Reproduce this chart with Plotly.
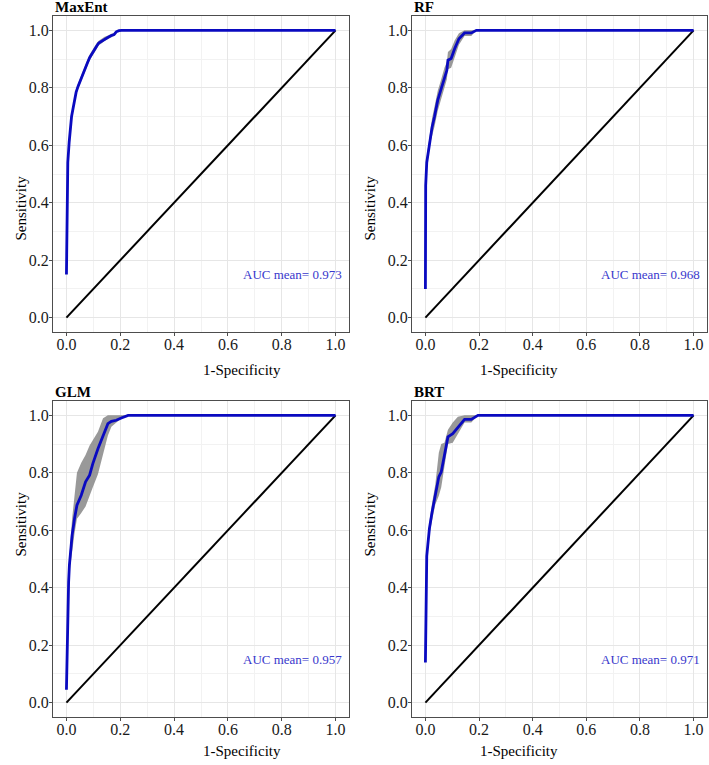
import plotly.graph_objects as go

# ---------------- data ----------------
models = ["MaxEnt", "RF", "GLM", "BRT"]
auc_means = ["0.973", "0.968", "0.957", "0.971"]

maxent_fpr = [0, 0.002, 0.005, 0.010, 0.014, 0.019, 0.024, 0.030, 0.036, 0.043, 0.049, 0.058, 0.067,
              0.077, 0.086, 0.095, 0.104, 0.112, 0.120, 0.130, 0.142, 0.155, 0.167, 0.177, 0.185,
              0.195, 0.205, 1.0]
maxent_tpr = [0.15, 0.40, 0.54, 0.61, 0.655, 0.70, 0.725, 0.755, 0.785, 0.805, 0.82, 0.84, 0.86,
              0.885, 0.905, 0.92, 0.935, 0.945, 0.956, 0.962, 0.971, 0.976, 0.982, 0.985, 0.995,
              0.999, 1.0, 1.0]
maxent_up = [0.15, 0.41, 0.55, 0.62, 0.665, 0.71, 0.735, 0.765, 0.795, 0.815, 0.83, 0.85, 0.87,
             0.895, 0.915, 0.93, 0.945, 0.955, 0.964, 0.97, 0.978, 0.982, 0.988, 0.99, 0.998,
             1.0, 1.0, 1.0]
maxent_lo = [0.15, 0.39, 0.53, 0.60, 0.645, 0.69, 0.715, 0.745, 0.775, 0.795, 0.81, 0.83, 0.85,
             0.875, 0.895, 0.91, 0.925, 0.935, 0.948, 0.954, 0.964, 0.97, 0.976, 0.98, 0.992,
             0.998, 1.0, 1.0]

rf_fpr = [0, 0.001, 0.005, 0.010, 0.015, 0.020, 0.025, 0.034, 0.046, 0.059, 0.071, 0.080, 0.084,
          0.096, 0.109, 0.125, 0.146, 0.171, 0.190, 1.0]
rf_tpr = [0.10, 0.46, 0.54, 0.575, 0.606, 0.64, 0.664, 0.70, 0.757, 0.797, 0.838, 0.861, 0.896,
          0.902, 0.936, 0.971, 0.991, 0.991, 1.0, 1.0]
rf_up = [0.10, 0.47, 0.56, 0.595, 0.63, 0.665, 0.695, 0.735, 0.79, 0.83, 0.87, 0.89, 0.925,
         0.935, 0.965, 0.99, 1.0, 1.0, 1.0, 1.0]
rf_lo = [0.09, 0.45, 0.525, 0.555, 0.585, 0.615, 0.635, 0.665, 0.72, 0.76, 0.80, 0.83, 0.865,
         0.87, 0.91, 0.95, 0.98, 0.98, 1.0, 1.0]

glm_fpr = [0, 0.003, 0.005, 0.008, 0.011, 0.016, 0.021, 0.030, 0.039, 0.055, 0.071, 0.086, 0.098,
           0.117, 0.136, 0.154, 0.167, 0.185, 0.204, 0.229, 1.0]
glm_tpr = [0.045, 0.20, 0.34, 0.42, 0.479, 0.54, 0.583, 0.641, 0.6875, 0.722, 0.769, 0.792, 0.832,
           0.884, 0.931, 0.971, 0.979, 0.983, 0.991, 1.0, 1.0]
glm_up = [0.05, 0.21, 0.36, 0.45, 0.51, 0.58, 0.64, 0.72, 0.80, 0.835, 0.862, 0.895, 0.914,
          0.943, 0.99, 1.0, 1.0, 1.0, 1.0, 1.0, 1.0]
glm_lo = [0.04, 0.19, 0.32, 0.39, 0.45, 0.50, 0.53, 0.59, 0.64, 0.66, 0.683, 0.72, 0.75,
          0.795, 0.862, 0.93, 0.96, 0.975, 0.99, 1.0, 1.0]

brt_fpr = [0, 0.002, 0.005, 0.009, 0.015, 0.025, 0.037, 0.050, 0.059, 0.071, 0.084, 0.102, 0.121,
           0.146, 0.171, 0.196, 1.0]
brt_tpr = [0.14, 0.456, 0.51, 0.549, 0.606, 0.664, 0.722, 0.786, 0.803, 0.861, 0.925, 0.936, 0.959,
           0.986, 0.986, 1.0, 1.0]
brt_up = [0.14, 0.46, 0.53, 0.57, 0.63, 0.695, 0.76, 0.87, 0.90, 0.905, 0.95, 0.975, 0.995,
          1.0, 1.0, 1.0, 1.0]
brt_lo = [0.13, 0.45, 0.49, 0.53, 0.585, 0.635, 0.69, 0.72, 0.75, 0.82, 0.90, 0.905, 0.935,
          0.975, 0.975, 1.0, 1.0]

diag = [0, 1]
tick_vals = [0.0, 0.2, 0.4, 0.6, 0.8, 1.0]

curves = [
    (maxent_fpr, maxent_tpr, maxent_lo, maxent_up),
    (rf_fpr, rf_tpr, rf_lo, rf_up),
    (glm_fpr, glm_tpr, glm_lo, glm_up),
    (brt_fpr, brt_tpr, brt_lo, brt_up),
]

# ---------------- layout geometry ----------------
W, H = 709, 765
x_doms = [(53 / W, 349 / W), (412 / W, 707 / W)]
y_doms = [(1 - 332 / H, 1 - 16 / H), (1 - 717 / H, 1 - 401 / H)]

SERIF = "Liberation Serif"
LINE_BLUE = "#0a0ac0"
TEXT_BLUE = "#3838cc"

fig = go.Figure()
annotations = []

for i, (name, auc, (fx, ty, lo, up)) in enumerate(zip(models, auc_means, curves)):
    col = i % 2
    row = i // 2
    idx = "" if i == 0 else str(i + 1)
    xa, ya = "x" + idx, "y" + idx

    # confidence band
    fig.add_trace(go.Scatter(
        x=list(fx) + list(fx)[::-1], y=list(up) + list(lo)[::-1],
        fill="toself", fillcolor="rgba(128,128,128,0.8)", line=dict(width=0),
        mode="lines", hoverinfo="skip", showlegend=False, xaxis=xa, yaxis=ya))
    # diagonal
    fig.add_trace(go.Scatter(x=diag, y=diag, mode="lines",
                             line=dict(color="black", width=2), showlegend=False,
                             xaxis=xa, yaxis=ya))
    # mean ROC
    fig.add_trace(go.Scatter(x=fx, y=ty, mode="lines",
                             line=dict(color=LINE_BLUE, width=2.8), showlegend=False,
                             xaxis=xa, yaxis=ya))

    axis_common = dict(
        range=[-0.05, 1.05], tickvals=tick_vals, tickformat=".1f",
        showgrid=True, gridcolor="#e6e6e6", gridwidth=1,
        minor=dict(showgrid=True, gridcolor="#f2f2f2", gridwidth=1, dtick=0.1, tick0=0),
        zeroline=False, showline=True, mirror=True, linecolor="#4d4d4d", linewidth=1.3,
        ticks="outside", ticklen=3, tickcolor="#4d4d4d", tickwidth=1,
        tickfont=dict(family=SERIF, size=16, color="#1a1a1a"),
    )
    fig.update_layout(**{
        "xaxis" + idx: dict(domain=list(x_doms[col]), anchor=ya, ticklabelstandoff=-5,
                            **axis_common),
        "yaxis" + idx: dict(domain=list(y_doms[row]), anchor=xa, ticklabelstandoff=-3,
                            **axis_common),
    })

    # AUC text
    annotations.append(dict(x=0.84, y=0.15, xref=xa, yref=ya, text="AUC mean= " + auc,
                            showarrow=False, font=dict(family=SERIF, size=13, color=TEXT_BLUE)))
    # panel title
    annotations.append(dict(x=x_doms[col][0], y=y_doms[row][1], xref="paper", yref="paper",
                            xanchor="left", yanchor="bottom", yshift=-1, text="<b>" + name + "</b>",
                            showarrow=False, font=dict(family=SERIF, size=15, color="black")))
    # x title
    xc = (67 + 335) / 2 / W if col == 0 else (426 + 693) / 2 / W
    if row == 0:
        annotations.append(dict(x=xc, y=1 - 370 / H, xref="paper", yref="paper",
                                text="1-Specificity", showarrow=False,
                                font=dict(family=SERIF, size=15, color="black")))
    else:
        annotations.append(dict(x=xc, y=0, xref="paper", yref="paper", yanchor="bottom",
                                yshift=4, text="1-Specificity", showarrow=False,
                                font=dict(family=SERIF, size=15, color="black")))
    # y title
    xl = 10 / W if col == 0 else 369 / W
    yc = (y_doms[row][0] + y_doms[row][1]) / 2
    annotations.append(dict(x=xl, y=yc, xref="paper", yref="paper", text="Sensitivity",
                            textangle=-90, showarrow=False,
                            font=dict(family=SERIF, size=15, color="black")))

fig.update_layout(
    width=W, height=H, margin=dict(l=0, r=0, t=0, b=0),
    paper_bgcolor="white", plot_bgcolor="white",
    annotations=annotations, showlegend=False,
)

fig.write_html("out.html")
